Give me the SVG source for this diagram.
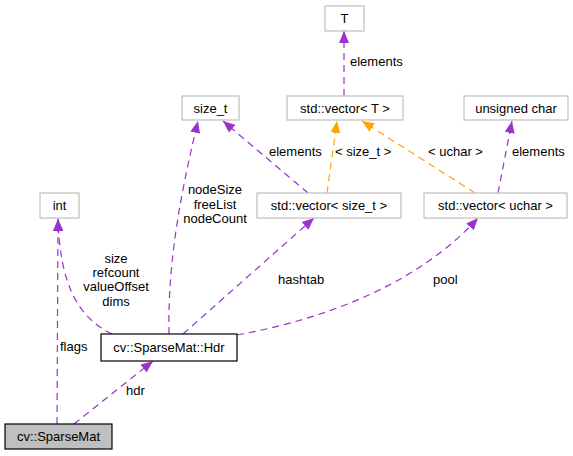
<svg xmlns="http://www.w3.org/2000/svg" width="573" height="456" viewBox="0 0 573 456">
<style>
text{font-family:"Liberation Sans",Arial,sans-serif;font-size:13px;fill:#000}
.n{fill:#fff;stroke:#bfbfbf;stroke-width:1.2}
.c{text-anchor:middle}
.e{fill:none;stroke:#9a32cd;stroke-width:1.2;stroke-dasharray:7,5}
.o{fill:none;stroke:#ffa500;stroke-width:1.2;stroke-dasharray:7,5}
</style>
<defs>
<marker id="ap" viewBox="0 0 12 10" markerWidth="12" markerHeight="10" refX="12" refY="5" orient="auto" markerUnits="userSpaceOnUse"><path d="M0,0 L12,5 L0,10 z" fill="#9a32cd"/></marker>
<marker id="ao" viewBox="0 0 12 10" markerWidth="12" markerHeight="10" refX="12" refY="5" orient="auto" markerUnits="userSpaceOnUse"><path d="M0,0 L12,5 L0,10 z" fill="#ffa500"/></marker>
</defs>
<rect width="573" height="456" fill="#fff"/>
<g id="connectors">
<path class="e" d="M344,96 L344,31" marker-end="url(#ap)"/>
<path class="e" d="M308,193 L223,121" marker-end="url(#ap)"/>
<path class="o" d="M327,193 L337,121" marker-end="url(#ao)"/>
<path class="o" d="M475,193 L362,121" marker-end="url(#ao)"/>
<path class="e" d="M498,193 L512,121" marker-end="url(#ap)"/>
<path class="e" d="M112,334 C75,316 60,280 58,219" marker-end="url(#ap)"/>
<path class="e" d="M169,334 C168,280 174,220 198,121" marker-end="url(#ap)"/>
<path class="e" d="M183,334 L314,218" marker-end="url(#ap)"/>
<path class="e" d="M237,335 C330,318 420,282 478,218" marker-end="url(#ap)"/>
<path class="e" d="M57,424 L58,219" marker-end="url(#ap)"/>
<path class="e" d="M74,424 L153,361" marker-end="url(#ap)"/>
<text x="350" y="66">elements</text>
<text x="269" y="156">elements</text>
<text x="335" y="156">&lt; size_t &gt;</text>
<text x="428" y="156">&lt; uchar &gt;</text>
<text x="512" y="156">elements</text>
<text class="c" x="215" y="194">nodeSize</text>
<text class="c" x="215" y="209">freeList</text>
<text class="c" x="215" y="223">nodeCount</text>
<text class="c" x="116" y="263">size</text>
<text class="c" x="116" y="277">refcount</text>
<text class="c" x="116" y="291">valueOffset</text>
<text class="c" x="116" y="306">dims</text>
<text x="278" y="284">hashtab</text>
<text x="433" y="284">pool</text>
<text x="60" y="351">flags</text>
<text x="126" y="395">hdr</text>
</g>
<g id="T"><rect class="n" x="325" y="6" width="39" height="25"/><text class="c" x="344.5" y="23">T</text></g>
<g id="vecT"><rect class="n" x="287" y="96" width="116" height="24"/><text class="c" x="345" y="113">std::vector&lt; T &gt;</text></g>
<g id="size_t"><rect class="n" x="182" y="96" width="57" height="24"/><text class="c" x="210.5" y="113">size_t</text></g>
<g id="uchar"><rect class="n" x="464" y="96" width="104" height="24"/><text class="c" x="516" y="113">unsigned char</text></g>
<g id="vecSize"><rect class="n" x="257" y="193" width="144" height="25"/><text class="c" x="329" y="210">std::vector&lt; size_t &gt;</text></g>
<g id="vecUchar"><rect class="n" x="424" y="193" width="143" height="25"/><text class="c" x="495.5" y="210">std::vector&lt; uchar &gt;</text></g>
<g id="int"><rect class="n" x="40" y="193" width="39" height="25"/><text class="c" x="59.5" y="210">int</text></g>
<g id="Hdr"><rect x="101" y="334" width="136" height="27" fill="#fff" stroke="#000" stroke-width="1.2"/><text class="c" x="169" y="352">cv::SparseMat::Hdr</text></g>
<g id="SparseMat"><rect x="5" y="424" width="107" height="25" fill="#bfbfbf" stroke="#000" stroke-width="1.2"/><text class="c" x="58.5" y="441">cv::SparseMat</text></g>
</svg>
